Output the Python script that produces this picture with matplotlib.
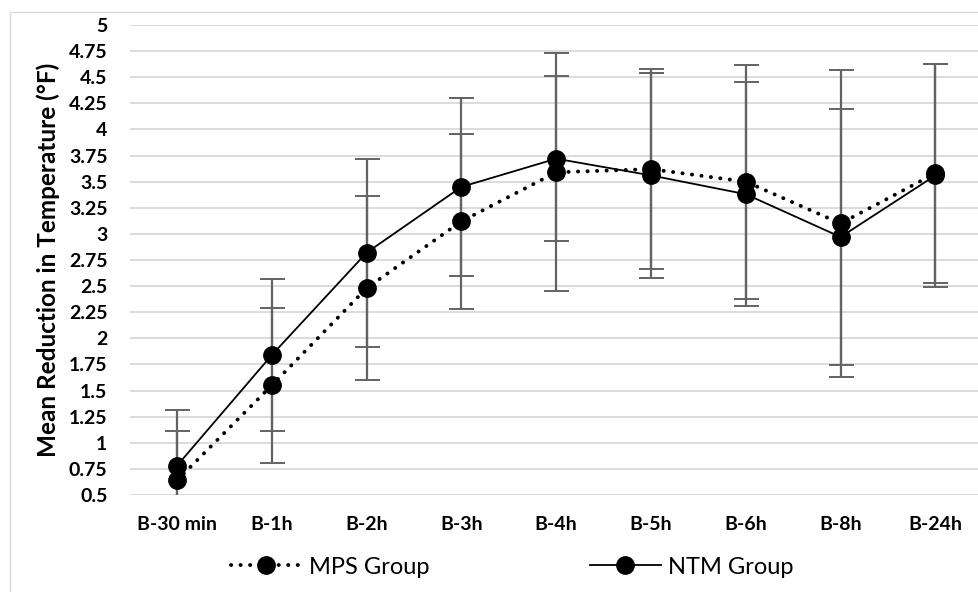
import matplotlib
matplotlib.use("Agg")
import matplotlib.pyplot as plt
from matplotlib.patches import Rectangle

# values
categories = ["B-30 min", "B-1h", "B-2h", "B-3h", "B-4h", "B-5h", "B-6h", "B-8h", "B-24h"]
mps_mean = [0.64, 1.55, 2.48, 3.12, 3.59, 3.62, 3.50, 3.10, 3.58]
mps_err = [0.47, 0.74, 0.88, 0.84, 1.14, 0.96, 1.12, 1.47, 1.05]
ntm_mean = [0.78, 1.84, 2.82, 3.45, 3.72, 3.56, 3.38, 2.97, 3.56]
ntm_err = [0.53, 0.73, 0.90, 0.85, 0.79, 0.98, 1.07, 1.23, 1.07]
yticks = [0.5, 0.75, 1, 1.25, 1.5, 1.75, 2, 2.25, 2.5, 2.75, 3, 3.25, 3.5,
          3.75, 4, 4.25, 4.5, 4.75, 5]
ytick_labels = ["0.5", "0.75", "1", "1.25", "1.5", "1.75", "2", "2.25", "2.5",
                "2.75", "3", "3.25", "3.5", "3.75", "4", "4.25", "4.5", "4.75", "5"]

plt.rcParams["font.family"] = ["Lato", "DejaVu Sans"]

W, H = 979, 592
fig = plt.figure(figsize=(W / 100, H / 100), dpi=100)
fig.patch.set_facecolor("white")

# outer chart border (light grey)
fig.patches.append(Rectangle((10 / W, -0.05), 1.2, (H - 12) / H + 0.05,
                             transform=fig.transFigure, fill=False,
                             edgecolor="#d9d9d9", linewidth=1.0))

ax = fig.add_axes([129.6 / W, 97 / H, 853.2 / W, 470 / H])
x = list(range(len(categories)))

err_kw = dict(fmt="none", ecolor="#636363", elinewidth=1.6, capsize=9,
              capthick=1.4, zorder=2)
ax.errorbar(x, mps_mean, yerr=mps_err, **err_kw)
ax.errorbar(x, ntm_mean, yerr=ntm_err, **err_kw)

ax.plot(x, mps_mean, color="black", linestyle=(0, (0.05, 2.4)), linewidth=2.8,
        dash_capstyle="round", marker="o", markersize=12.5, zorder=3,
        label="MPS Group")
ax.plot(x, ntm_mean, color="black", linestyle="-", linewidth=1.3,
        marker="o", markersize=12.5, zorder=4, label="NTM Group")

ax.set_xlim(-0.5, len(categories) - 0.5)
ax.set_ylim(0.5, 5)
ax.set_yticks(yticks)
ax.set_yticklabels(ytick_labels, fontsize=14, fontweight="bold")
ax.set_xticks(x)
ax.set_xticklabels(categories, fontsize=14, fontweight="bold")
ax.tick_params(axis="both", length=0)
ax.tick_params(axis="y", pad=16)
ax.tick_params(axis="x", pad=15)
ax.grid(axis="y", color="#d9d9d9", linewidth=1.3)
ax.set_axisbelow(True)
for s in ax.spines.values():
    s.set_visible(False)

ax.set_ylabel("Mean Reduction in Temperature (°F)", fontsize=17.5,
              fontweight="bold")
ax.yaxis.set_label_coords(-70 / 853.2, 0.5)

fig.legend(loc="center", bbox_to_anchor=(512 / W, 25 / H), ncol=2,
           frameon=False, fontsize=17, handlelength=3.0, columnspacing=6.8,
           handletextpad=0.3)

fig.savefig("out.png", dpi=100)
